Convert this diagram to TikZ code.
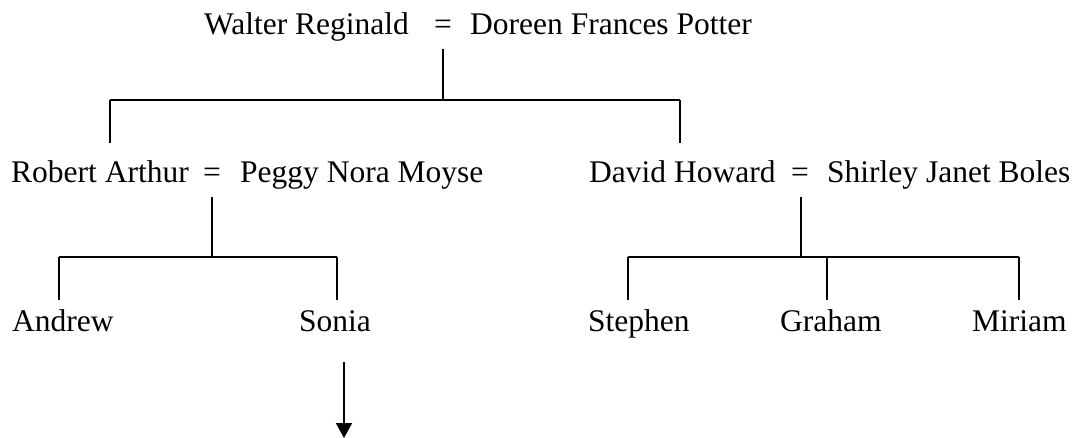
\documentclass[tikz,border=0pt]{standalone}
\usepackage{fontspec}
\setmainfont{Liberation Serif}
\usetikzlibrary{arrows.meta}
\begin{document}
\begin{tikzpicture}[x=1pt,y=-1pt,
  person/.style={inner sep=0pt,anchor=base west,font=\fontsize{31.5}{36}\selectfont},
  marr/.style={inner sep=0pt,anchor=base,font=\fontsize{31.5}{36}\selectfont},
  link/.style={line width=2pt,line cap=butt},
  descent/.style={line width=2pt,-{Triangle[length=15pt,width=16pt]}}]
\useasboundingbox (0,0) rectangle (1078,438);
% generation 1
\node[person] (walter) at (204,35) {Walter Reginald};
\node[marr] (eqa) at (443,35) {=};
\node[person] (doreen) at (470,35) {Doreen Frances Potter};
% generation 2
\node[person] (robert) at (11,183) {Robert Arthur};
\node[marr] (eqb) at (212,183) {=};
\node[person] (peggy) at (240,183) {Peggy Nora Moyse};
\node[person] (david) at (589,183) {David Howard};
\node[marr] (eqc) at (800,183) {=};
\node[person] (shirley) at (827,183) {Shirley Janet Boles};
% generation 3
\node[person] (andrew) at (12,331) {Andrew};
\node[person] (sonia) at (299,331) {Sonia};
\node[person] (stephen) at (588,331) {Stephen};
\node[person] (graham) at (780,331) {Graham};
\node[person] (miriam) at (972,331) {Miriam};
% junction coordinates
\coordinate (a0) at (443,49);
\coordinate (a1) at (443,100);
\coordinate (aL) at (110,100);
\coordinate (aR) at (680,100);
\coordinate (robtop) at (110,143);
\coordinate (davtop) at (680,143);
\coordinate (b0) at (212,197);
\coordinate (b1) at (212,257);
\coordinate (bL) at (59,257);
\coordinate (bR) at (337,257);
\coordinate (andtop) at (59,300);
\coordinate (sontop) at (337,300);
\coordinate (c0) at (801,197);
\coordinate (c1) at (801,257);
\coordinate (cL) at (628,257);
\coordinate (cM) at (827,257);
\coordinate (cR) at (1019,257);
\coordinate (stetop) at (628,300);
\coordinate (gratop) at (827,300);
\coordinate (mirtop) at (1019,300);
\coordinate (s0) at (344,362);
\coordinate (s1) at (344,438);
% connectors
\draw[link] (a0) -- (a1);
\draw[link] (aL) -- (aR);
\draw[link] (aL) -- (robtop);
\draw[link] (aR) -- (davtop);
\draw[link] (b0) -- (b1);
\draw[link] (bL) -- (bR);
\draw[link] (bL) -- (andtop);
\draw[link] (bR) -- (sontop);
\draw[link] (c0) -- (c1);
\draw[link] (cL) -- (cR);
\draw[link] (cL) -- (stetop);
\draw[link] (cM) -- (gratop);
\draw[link] (cR) -- (mirtop);
\draw[descent] (s0) -- (s1);
\end{tikzpicture}
\end{document}
